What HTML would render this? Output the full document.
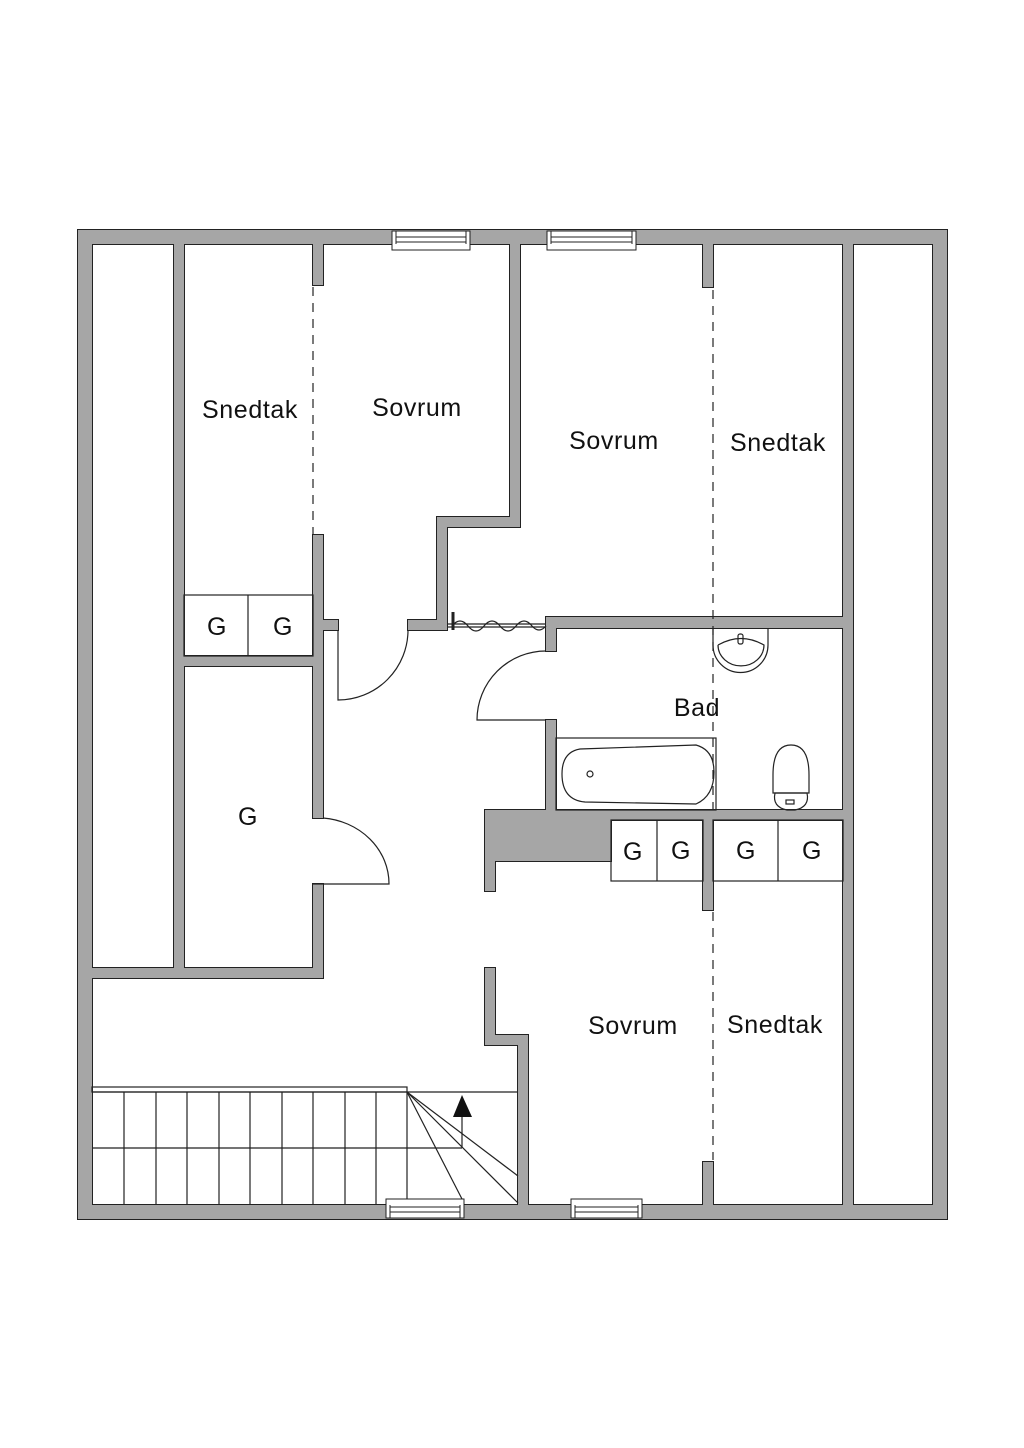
<!DOCTYPE html>
<html><head><meta charset="utf-8"><style>
html,body{margin:0;padding:0;background:#fff;}
svg{display:block;}
text{font-family:"Liberation Sans",sans-serif;font-size:25px;letter-spacing:0.6px;fill:#111;text-anchor:middle;}
</style></head><body>
<svg width="1024" height="1448" viewBox="0 0 1024 1448" xmlns="http://www.w3.org/2000/svg">
<rect width="1024" height="1448" fill="#fff"/>
<defs>
<g id="walls">
<rect x="78" y="230" width="869" height="14"/>
<rect x="78" y="1205" width="869" height="14"/>
<rect x="78" y="230" width="14" height="989"/>
<rect x="933" y="230" width="14" height="989"/>
<rect x="174" y="244" width="10" height="734"/>
<rect x="92" y="968" width="231" height="10"/>
<rect x="313" y="244" width="10" height="41"/>
<rect x="313" y="535" width="10" height="283"/>
<rect x="313" y="884" width="10" height="94"/>
<rect x="184" y="656" width="129" height="10"/>
<rect x="323" y="620" width="15" height="10"/>
<rect x="408" y="620" width="39" height="10"/>
<rect x="437" y="517" width="10" height="113"/>
<rect x="437" y="517" width="83" height="10"/>
<rect x="510" y="244" width="10" height="283"/>
<rect x="546" y="617" width="307" height="11"/>
<rect x="843" y="244" width="10" height="961"/>
<rect x="703" y="244" width="10" height="43"/>
<rect x="546" y="617" width="10" height="34"/>
<rect x="546" y="720" width="10" height="100"/>
<rect x="485" y="810" width="368" height="10"/>
<rect x="485" y="810" width="126" height="51"/>
<rect x="485" y="810" width="10" height="81"/>
<rect x="703" y="820" width="10" height="90"/>
<rect x="703" y="1162" width="10" height="43"/>
<rect x="485" y="968" width="10" height="77"/>
<rect x="485" y="1035" width="43" height="10"/>
<rect x="518" y="1035" width="10" height="170"/>
</g>
</defs>
<use href="#walls" fill="none" stroke="#222" stroke-width="2"/>
<use href="#walls" fill="#a6a6a6"/>

<g fill="#fff" stroke="#222" stroke-width="1">
<rect x="392" y="231" width="78" height="19"/><line x1="396" y1="237" x2="466" y2="237"/><line x1="396" y1="242" x2="466" y2="242"/><line x1="396" y1="231" x2="396" y2="244"/><line x1="466" y1="231" x2="466" y2="244"/>
<rect x="547" y="231" width="89" height="19"/><line x1="551" y1="237" x2="632" y2="237"/><line x1="551" y1="242" x2="632" y2="242"/><line x1="551" y1="231" x2="551" y2="244"/><line x1="632" y1="231" x2="632" y2="244"/>
<rect x="386" y="1199" width="78" height="19"/><line x1="390" y1="1207" x2="460" y2="1207"/><line x1="390" y1="1212" x2="460" y2="1212"/><line x1="390" y1="1205" x2="390" y2="1218"/><line x1="460" y1="1205" x2="460" y2="1218"/>
<rect x="571" y="1199" width="71" height="19"/><line x1="575" y1="1207" x2="638" y2="1207"/><line x1="575" y1="1212" x2="638" y2="1212"/><line x1="575" y1="1205" x2="575" y2="1218"/><line x1="638" y1="1205" x2="638" y2="1218"/>
</g>

<g fill="none" stroke="#222" stroke-width="1.2">
<line x1="313" y1="287" x2="313" y2="535" stroke-dasharray="9,7"/>
<line x1="713" y1="290" x2="713" y2="810" stroke-dasharray="9,7"/>
<line x1="713" y1="912" x2="713" y2="1160" stroke-dasharray="9,7"/>
<rect x="184" y="595" width="129" height="61"/><line x1="248" y1="595" x2="248" y2="656"/>
<rect x="611" y="820" width="92" height="61"/><line x1="657" y1="820" x2="657" y2="881"/>
<rect x="713" y="820" width="130" height="61"/><line x1="778" y1="820" x2="778" y2="881"/>
<path d="M338 630 L338 700 A70 70 0 0 0 408 630"/>
<path d="M313 884 L389 884 A72 66 0 0 0 323 818"/>
<path d="M546 720 L477 720 A69 69 0 0 1 546 651"/>
<line x1="447" y1="624" x2="546" y2="624"/>
<line x1="447" y1="627" x2="546" y2="627"/>
<path d="M452 626 q8 -10 16 0 q8 10 16 0 q8 -10 16 0 q8 10 16 0 q8 -10 16 0 q7 8 14 0"/>
<line x1="453" y1="612" x2="453" y2="630" stroke-width="3"/>
<rect x="556" y="738" width="160" height="72"/>
<path d="M580 749 Q562 752 562 774 Q562 800 585 802 L696 804 Q714 796 714 772 Q714 750 696 745 Z"/>
<circle cx="590" cy="774" r="3"/>
<path d="M713 628 L713 645 A27 27 0 0 0 768 645 L768 628"/>
<path d="M718 645 A22 20 0 0 0 764 645 Q741 632 718 645"/>
<rect x="738" y="634" width="5" height="10" rx="2"/>
<path d="M773 775 Q773 745 791 745 Q809 745 809 775 L809 793 L773 793 Z"/>
<path d="M775 793 L807 793 Q810 807 795 810 L787 810 Q772 807 775 793 Z"/>
<rect x="786" y="800" width="8" height="4"/>
<rect x="92" y="1087" width="315" height="5"/>
<line x1="92" y1="1092" x2="518" y2="1092"/>
<line x1="92" y1="1148" x2="462" y2="1148"/>
<line x1="124" y1="1092" x2="124" y2="1205"/><line x1="156" y1="1092" x2="156" y2="1205"/>
<line x1="187" y1="1092" x2="187" y2="1205"/><line x1="219" y1="1092" x2="219" y2="1205"/>
<line x1="250" y1="1092" x2="250" y2="1205"/><line x1="282" y1="1092" x2="282" y2="1205"/>
<line x1="313" y1="1092" x2="313" y2="1205"/><line x1="345" y1="1092" x2="345" y2="1205"/>
<line x1="376" y1="1092" x2="376" y2="1205"/><line x1="407" y1="1092" x2="407" y2="1199"/>
<line x1="407" y1="1092" x2="462" y2="1199"/>
<line x1="407" y1="1092" x2="518" y2="1203"/>
<line x1="407" y1="1092" x2="518" y2="1176"/>
<line x1="462" y1="1116" x2="462" y2="1148"/>
</g>
<polygon points="462,1095 453,1117 472,1117" fill="#111"/>

<text x="250" y="418">Snedtak</text>
<text x="417" y="416">Sovrum</text>
<text x="614" y="449">Sovrum</text>
<text x="778" y="451">Snedtak</text>
<text x="697" y="716">Bad</text>
<text x="633" y="1034">Sovrum</text>
<text x="775" y="1033">Snedtak</text>
<text x="217" y="635">G</text><text x="283" y="635">G</text>
<text x="248" y="825">G</text>
<text x="633" y="860">G</text><text x="681" y="859">G</text>
<text x="746" y="859">G</text><text x="812" y="859">G</text>
</svg>
</body></html>
